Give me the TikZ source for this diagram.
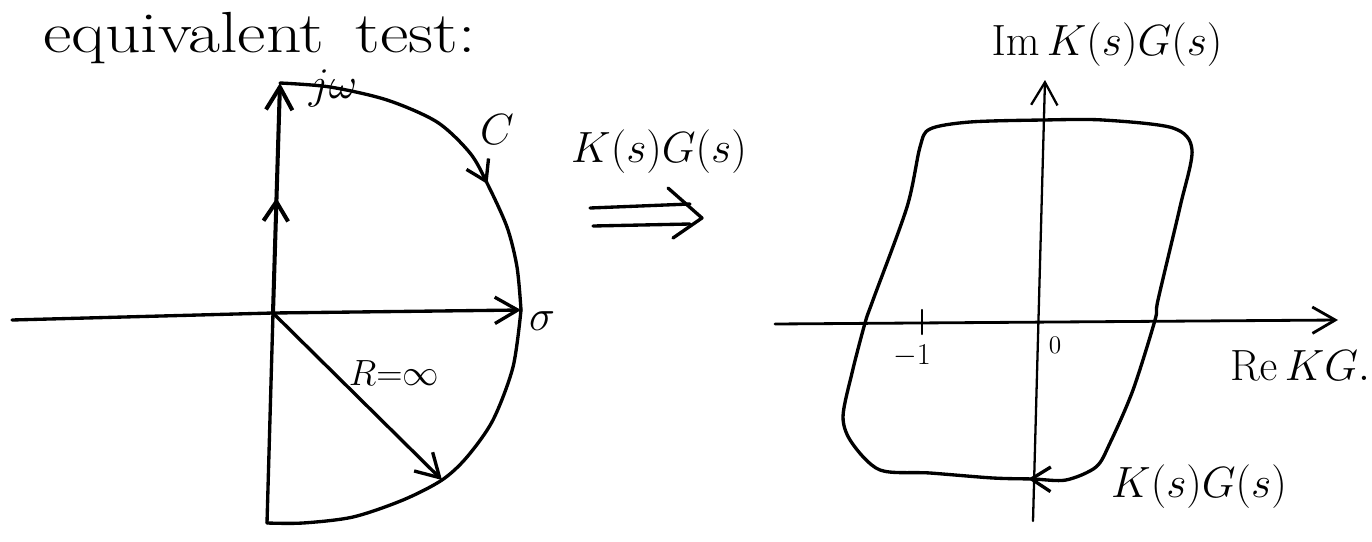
\documentclass[tikz,border=0pt]{standalone}
\usepackage{amsmath}
\usepackage{amssymb}
\usepackage{graphicx}
\usetikzlibrary{arrows.meta,calc,decorations.markings}

\begin{document}
\begin{tikzpicture}[x=0.02cm, y=-0.02cm,
    pen/.style={line width=1.9pt, line cap=round, line join=round},
    thinpen/.style={line width=1.3pt, line cap=round},
    barb/.style={-{Straight Barb[length=13pt, width=15pt]}},
    midbarb/.style={postaction={decorate}, decoration={markings,
        mark=at position #1 with {\arrow{Straight Barb[length=11pt, width=14pt]}}}},
    lbl/.style={font=\fontsize{25}{30}\selectfont, inner sep=0pt}]
    \useasboundingbox (0,0) rectangle (1372,541);

    % Antraste
    \node[anchor=base west, font=\fontsize{33}{36}\selectfont, inner sep=0pt] (title) at (43,52) {\scalebox{1.2}[1]{equivalent\hspace{0.45em}test:}};

    % s plokstuma
    \coordinate (O) at (273,313);
    \coordinate (Wend) at (12,320);
    \coordinate (Send) at (521,310);
    \coordinate (Ntop) at (280,83);
    \coordinate (Sbot) at (267,523);
    \coordinate (Rend) at (442,480);

    \draw[pen] (Wend) -- (O);
    \draw[pen, barb] (O) -- (Send);
    \draw[pen, line width=2.3pt, barb, midbarb=0.5] (O) -- (Ntop);
    \draw[pen] (O) -- (Sbot);
    \draw[pen, barb] (O) -- (Rend);

    % Konturas C
    \draw[pen, midbarb=0.65] plot[smooth] coordinates {(Ntop) (330,87) (387,100) (437,122) (470,153) (487,183) (507,227) (517,267) (Send)};
    \draw[pen] plot[smooth] coordinates {(Send) (513,367) (493,420) (467,457) (Rend) (403,500) (353,517) (303,523) (Sbot)};

    \node[lbl] (jw) at (333,88) {$j\omega$};
    \node[lbl] (clbl) at (497,130) {$C$};
    \node[lbl] (sig) at (542,321) {$\sigma$};
    \node[lbl, font=\fontsize{21}{24}\selectfont] (rlbl) at (394,373) {$R{=}\infty$};

    % Atvaizdavimas
    \node[lbl] (maplbl) at (659,152) {$K(s)G(s)$};
    \coordinate (mapR) at (702,218);
    \draw[pen] (590,208) -- (690,204);
    \draw[pen] (593,226) -- (690,224);
    \draw[pen] (668,188) -- (mapR) -- (673,238);

    % KG plokstuma
    \coordinate (ReL) at (775,324);
    \coordinate (ReR) at (1338,320);
    \coordinate (ImB) at (1033,521);
    \coordinate (ImT) at (1045,80);
    \draw[thinpen, line width=1.6pt, barb] (ReL) -- (ReR);
    \draw[thinpen, barb] (ImB) -- (ImT);
    \draw[thinpen] (922,310) -- (922,334);

    \draw[pen, midbarb=0.004] plot[smooth cycle] coordinates {(1066,480) (1033,479) (993,478) (930,473) (880,470) (852,443) (843,417) (852,373) (865,323) (873,300) (907,207) (920,147) (930,129) (970,122) (1043,120) (1103,120) (1173,128) (1192,150) (1180,207) (1158,300) (1155,320) (1133,390) (1110,443) (1096,467)};

    \node[lbl] (imlbl) at (1107,45) {$\mathrm{Im}\,K(s)G(s)$};
    \node[lbl] (relbl) at (1300,366) {$\mathrm{Re}\,KG.$};
    \node[lbl] (kglbl) at (1199,487) {$K(s)G(s)$};
    \node[font=\fontsize{18}{20}\selectfont, inner sep=0pt] (m1) at (912,356) {$-1$};
    \node[font=\fontsize{15}{18}\selectfont, inner sep=0pt] (zero) at (1055,345) {$0$};
\end{tikzpicture}
\end{document}
